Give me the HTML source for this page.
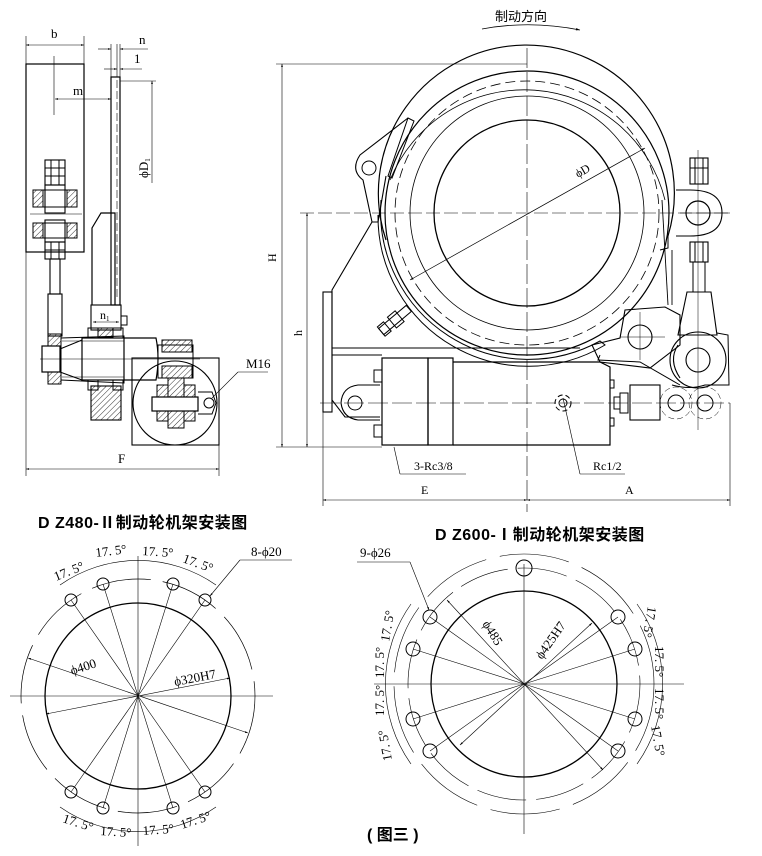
<!DOCTYPE html>
<html><head><meta charset="utf-8"><style>
html,body{margin:0;padding:0;background:#fff}
svg{display:block}
text{font-family:"Liberation Serif","Noto Serif CJK SC",serif;fill:#000}
.cj{font-family:"Liberation Sans","Noto Sans CJK SC",sans-serif}
</style></head><body>
<svg width="762" height="856" viewBox="0 0 762 856" xmlns="http://www.w3.org/2000/svg" fill="none" stroke="#000" stroke-width="1">
<defs>
<marker id="ar" viewBox="0 0 10 10" refX="10" refY="5" markerWidth="7" markerHeight="5" orient="auto-start-reverse"><path d="M0,2 L10,5 L0,8 z" fill="#000" stroke="none"/></marker>
<pattern id="h" width="4" height="4" patternUnits="userSpaceOnUse" patternTransform="rotate(45)"><line x1="0" y1="0" x2="0" y2="4" stroke="#000" stroke-width="0.8"/></pattern>
</defs>

<!-- ============ LEFT SIDE VIEW ============ -->
<g stroke-width="1">
<line x1="26" y1="36" x2="26" y2="64" stroke-width="0.6"/><line x1="84" y1="36" x2="84" y2="64" stroke-width="0.6"/>
<line x1="26" y1="45" x2="84" y2="45" stroke-width="0.6" marker-start="url(#ar)" marker-end="url(#ar)"/>
<text x="51" y="38" font-size="13" stroke="none">b</text>
<rect x="26" y="64" width="58" height="188" stroke-width="1.2"/>
<line x1="54" y1="56" x2="54" y2="115" stroke-width="0.6"/>
<line x1="55" y1="99" x2="111" y2="99" stroke-width="0.6" marker-start="url(#ar)" marker-end="url(#ar)"/>
<text x="73" y="95" font-size="13" stroke="none">m</text>
<line x1="111" y1="44" x2="111" y2="77" stroke-width="0.6"/><line x1="117" y1="44" x2="117" y2="77" stroke-width="0.6"/><line x1="120" y1="44" x2="120" y2="77" stroke-width="0.6"/>
<line x1="98" y1="49" x2="111" y2="49" stroke-width="0.6" marker-end="url(#ar)"/><line x1="148" y1="49" x2="120" y2="49" stroke-width="0.6" marker-end="url(#ar)"/>
<text x="139" y="44" font-size="13" stroke="none">n</text>
<line x1="104" y1="69" x2="117" y2="69" stroke-width="0.6" marker-end="url(#ar)"/><line x1="142" y1="69" x2="120" y2="69" stroke-width="0.6" marker-end="url(#ar)"/>
<text x="134" y="63" font-size="13" stroke="none">1</text>
<rect x="111" y="77" width="9" height="228" stroke-width="1.2"/>
<line x1="117" y1="80" x2="117" y2="300" stroke-width="0.6" stroke-dasharray="8,3"/>
<line x1="120" y1="81" x2="156" y2="81" stroke-width="0.6"/>
<line x1="152" y1="81" x2="152" y2="183" stroke-width="0.6" marker-start="url(#ar)"/>
<text x="0" y="0" font-size="13" stroke="none" transform="translate(148,178) rotate(-90)">ϕD<tspan font-size="7" dy="2">1</tspan></text>
<path d="M92,305 L92,228 L101,213 L115,213 L115,305" stroke-width="1.2"/>
<rect x="91" y="305" width="30" height="25" stroke-width="1.1"/>
<line x1="93" y1="322" x2="119" y2="322" stroke-width="0.6" marker-start="url(#ar)" marker-end="url(#ar)"/>
<text x="100" y="319" font-size="12" stroke="none">n<tspan font-size="7" dy="2">1</tspan></text>
<rect x="121" y="316" width="6" height="9"/>
<rect x="33" y="190" width="44" height="17" stroke-width="1"/><rect x="33" y="223" width="44" height="15"/>
<rect x="33" y="190" width="10" height="17" fill="url(#h)"/><rect x="67" y="190" width="10" height="17" fill="url(#h)"/>
<rect x="33" y="223" width="10" height="15" fill="url(#h)"/><rect x="67" y="223" width="10" height="15" fill="url(#h)"/>
<rect x="45" y="160" width="20" height="25" stroke-width="1.1"/><line x1="45" y1="168" x2="65" y2="168"/><line x1="45" y1="176" x2="65" y2="176"/><line x1="51" y1="160" x2="51" y2="185"/><line x1="59" y1="160" x2="59" y2="185"/>
<rect x="45" y="185" width="20" height="28" stroke-width="1.1"/>
<rect x="45" y="220" width="20" height="22" stroke-width="1.1"/>
<rect x="45" y="242" width="20" height="17" stroke-width="1.1"/><line x1="51" y1="242" x2="51" y2="259"/><line x1="59" y1="242" x2="59" y2="259"/><line x1="45" y1="250" x2="65" y2="250"/>
<line x1="30" y1="214" x2="82" y2="214" stroke-width="0.6"/>
<rect x="50" y="259" width="10" height="35" stroke-width="1.1"/><rect x="48" y="294" width="14" height="42" stroke-width="1.1"/>
<rect x="48" y="334" width="13" height="50" fill="url(#h)"/>
<rect x="42" y="346" width="18" height="26" stroke-width="1.2" fill="#fff"/>
<path d="M61,338 L124,336 L124,383 L61,380" stroke-width="1"/>
<line x1="62" y1="341" x2="124" y2="341" stroke-width="0.6"/><line x1="62" y1="377" x2="124" y2="377" stroke-width="0.6"/>
<path d="M60,349 L82,340 L82,380 L60,372"/>
<rect x="82" y="338" width="42" height="42" stroke-width="1.2"/>
<rect x="88" y="328" width="10" height="10"/><rect x="113" y="328" width="10" height="10"/>
<rect x="88" y="380" width="10" height="10"/><rect x="113" y="380" width="10" height="10"/>
<rect x="98" y="328" width="15" height="9" fill="url(#h)"/>
<path d="M124,338 L156,338 Q160,358 156,380 L124,380" stroke-width="1.2"/>
<rect x="91" y="386" width="30" height="34" fill="url(#h)" stroke-width="1.1"/>
<rect x="162" y="340" width="30" height="12" fill="url(#h)"/><rect x="162" y="366" width="30" height="12" fill="url(#h)"/>
<rect x="158" y="345" width="35" height="33" stroke-width="1"/>
<line x1="40" y1="359" x2="200" y2="359" stroke-width="0.6"/>
<rect x="132" y="358" width="87" height="87" stroke-width="1.1"/>
<circle cx="175" cy="403" r="42" stroke-width="1.1"/>
<rect x="168" y="378" width="16" height="50" fill="url(#h)"/><rect x="157" y="385" width="11" height="36" fill="url(#h)"/><rect x="184" y="385" width="11" height="36" fill="url(#h)"/>
<rect x="152" y="397" width="46" height="14" stroke-width="1.2" fill="#fff"/>
<path d="M198,392 L212,392 L216,403 L212,414 L198,414" />
<circle cx="209" cy="403" r="5"/>
<line x1="212" y1="398" x2="238" y2="372" stroke-width="0.6"/><line x1="238" y1="372" x2="268" y2="372" stroke-width="0.6"/>
<text x="246" y="368" font-size="13" stroke="none">M16</text>
<line x1="26" y1="252" x2="26" y2="476" stroke-width="0.6"/><line x1="219" y1="445" x2="219" y2="476" stroke-width="0.6"/>
<line x1="26" y1="469" x2="219" y2="469" stroke-width="0.6" marker-start="url(#ar)" marker-end="url(#ar)"/>
<text x="118" y="463" font-size="13" stroke="none">F</text>
</g>

<!-- ============ RIGHT MAIN VIEW ============ -->
<g>
<text x="495" y="21" font-size="13" class="cj" stroke="none">制动方向</text>
<path d="M482,29 Q530,20 580,30" stroke-width="0.8" marker-end="url(#ar)"/>
<line x1="276" y1="64" x2="527" y2="64" stroke-width="0.6"/>
<line x1="282" y1="64" x2="282" y2="447" stroke-width="0.6" marker-start="url(#ar)" marker-end="url(#ar)"/>
<text x="0" y="0" font-size="12" stroke="none" transform="translate(276,262) rotate(-90)">H</text>
<line x1="300" y1="213" x2="730" y2="213" stroke-width="0.6" stroke-dasharray="14,4"/>
<line x1="307" y1="213" x2="307" y2="447" stroke-width="0.6" marker-start="url(#ar)" marker-end="url(#ar)"/>
<text x="0" y="0" font-size="12" stroke="none" transform="translate(302,336) rotate(-90)">h</text>
<line x1="276" y1="447" x2="382" y2="447" stroke-width="0.6"/>
<line x1="527" y1="48" x2="527" y2="512" stroke-width="0.6" stroke-dasharray="20,4"/>
<circle cx="527" cy="213" r="93" stroke-width="1.3"/>
<circle cx="527" cy="213" r="117" stroke-width="0.8"/>
<circle cx="527" cy="213" r="132" stroke-width="0.8" stroke-dasharray="10,5"/>
<circle cx="527" cy="213" r="142" stroke-width="1.2"/>
<path d="M386,240 A148,148 0 1 1 668,236" stroke-width="1.2"/>
<path d="M390,180 A145,145 0 0 1 665,200" stroke-width="0.8"/>
<path d="M668,236 L668,248 L660,250" stroke-width="1"/>
<path d="M381,200 A148,148 0 0 0 600,341 L605,345 A150,150 0 0 1 378,215" stroke-width="1"/>
<line x1="410" y1="280" x2="645" y2="148" stroke-width="0.7" marker-start="url(#ar)" marker-end="url(#ar)"/>
<text x="0" y="0" font-size="12" stroke="none" transform="translate(578,178) rotate(-30)">ϕD</text>
<path d="M408,118 L414,121 L392,178 L388,176 Z"/>
<path d="M408,118 L360,155 Q350,170 363,180 L372,222 L378,222 L386,176" stroke-width="1.1"/>
<circle cx="369" cy="168" r="7"/>
<path d="M372,222 L332,290 L332,400 L345,417 L380,417" stroke-width="1.1"/>
<rect x="323" y="292" width="9" height="120" stroke-width="1.1"/>
<line x1="332" y1="348" x2="580" y2="348" stroke-width="1"/><line x1="332" y1="355" x2="382" y2="355" stroke-width="1"/>
<path d="M380,385 L358,385 Q342,387 341,403 Q343,418 358,420 L380,420" stroke-width="1.1"/>
<circle cx="355" cy="403" r="7"/>
<line x1="320" y1="403" x2="730" y2="403" stroke-width="0.6" stroke-dasharray="20,4"/>
<g transform="translate(395,320) rotate(-40)"><rect x="-18" y="-4" width="36" height="8"/><rect x="-4" y="-7" width="10" height="14"/><rect x="-18" y="-6" width="8" height="12"/></g>
<rect x="382" y="358" width="46" height="87" stroke-width="1.2"/>
<rect x="428" y="358" width="25" height="87" stroke-width="1.2"/>
<path d="M453,362 L600,362 L610,367 L610,445 L453,445" stroke-width="1.2"/>
<rect x="374" y="370" width="8" height="12"/><rect x="374" y="425" width="8" height="12"/>
<rect x="610" y="380" width="4" height="8"/><rect x="610" y="418" width="4" height="8"/>
<rect x="614" y="397" width="6" height="12"/><rect x="620" y="393" width="8" height="20"/>
<rect x="630" y="385" width="30" height="35" stroke-width="1.1"/>
<circle cx="563" cy="403" r="8" stroke-dasharray="5,3"/>
<circle cx="563" cy="403" r="4"/>
<path d="M600,355 L598,360 L640,362 L680,385" stroke-width="1"/>
<path d="M592,345 L620,338 L625,310 L665,307 L680,315 L680,345 L650,368 L600,362 Z" stroke-width="1.1"/>
<circle cx="640" cy="337" r="12" stroke-width="1.1"/>
<line x1="620" y1="337" x2="665" y2="337" stroke-width="0.5"/><line x1="640" y1="312" x2="640" y2="360" stroke-width="0.5"/>
<line x1="662" y1="200" x2="668" y2="305" stroke-width="0.9"/><line x1="672" y1="250" x2="672" y2="305" stroke-width="0.9"/>
<path d="M676,190 L690,190 Q722,190 722,213 Q722,236 690,236 L676,236" stroke-width="1.1"/>
<circle cx="698" cy="213" r="12" stroke-width="1.2"/>
<line x1="680" y1="213" x2="730" y2="213" stroke-width="0.5"/><line x1="698" y1="150" x2="698" y2="430" stroke-width="0.5"/>
<rect x="690" y="158" width="18" height="26" stroke-width="1.1"/><line x1="695" y1="158" x2="695" y2="184"/><line x1="703" y1="158" x2="703" y2="184"/><line x1="690" y1="168" x2="708" y2="168"/>
<rect x="690" y="242" width="18" height="20" stroke-width="1.1"/><line x1="695" y1="242" x2="695" y2="262"/><line x1="703" y1="242" x2="703" y2="262"/>
<rect x="693" y="262" width="12" height="30"/>
<path d="M687,292 L711,292 L717,335 L678,335 Z" stroke-width="1.1"/>
<path d="M717,333 L728,335 L729,385 L705,385 Q690,390 672,385" stroke-width="1"/>
<circle cx="698" cy="360" r="28" stroke-width="1.1"/>
<circle cx="698" cy="360" r="12" stroke-width="1.1"/>
<path d="M678,345 Q668,360 680,378" stroke-width="1.1"/>
<circle cx="676" cy="403" r="8"/><circle cx="705" cy="403" r="8"/>
<circle cx="676" cy="403" r="16" stroke-width="0.5" stroke-dasharray="6,3"/><circle cx="705" cy="403" r="16" stroke-width="0.5" stroke-dasharray="6,3"/>
<line x1="394" y1="447" x2="400" y2="474" stroke-width="0.6"/><line x1="400" y1="474" x2="466" y2="474" stroke-width="0.6"/>
<text x="414" y="470" font-size="12" stroke="none">3-Rc3/8</text>
<line x1="563" y1="398" x2="580" y2="474" stroke-width="0.6"/><line x1="580" y1="474" x2="625" y2="474" stroke-width="0.6"/>
<text x="593" y="470" font-size="12" stroke="none">Rc1/2</text>
<line x1="323" y1="412" x2="323" y2="506" stroke-width="0.6"/><line x1="730" y1="403" x2="730" y2="506" stroke-width="0.6"/>
<line x1="323" y1="500" x2="527" y2="500" stroke-width="0.6" marker-start="url(#ar)" marker-end="url(#ar)"/>
<line x1="527" y1="500" x2="730" y2="500" stroke-width="0.6" marker-start="url(#ar)" marker-end="url(#ar)"/>
<text x="421" y="494" font-size="12" stroke="none">E</text>
<text x="625" y="494" font-size="12" stroke="none">A</text>
</g>

<text x="38" y="528" font-size="16" font-weight="bold" class="cj" stroke="none" letter-spacing="0.5">D Z480-Ⅱ制动轮机架安装图</text>
<text x="435" y="540" font-size="16" font-weight="bold" class="cj" stroke="none" letter-spacing="0.5">D Z600-Ⅰ制动轮机架安装图</text>

<!-- ============ LEFT FLANGE ============ -->
<g transform="translate(138,696)">
<line x1="-128" y1="0" x2="135" y2="0" stroke-width="0.6"/>
<line x1="0" y1="-140" x2="0" y2="150" stroke-width="0.6"/>
<circle r="93" stroke-width="1.3"/>
<circle r="117" stroke-width="0.7" stroke-dasharray="60,12"/>
<g stroke-width="0.6">
<line x1="0" y1="0" x2="-67" y2="-96"/><line x1="0" y1="0" x2="-35" y2="-112"/><line x1="0" y1="0" x2="35" y2="-112"/><line x1="0" y1="0" x2="67" y2="-96"/>
<line x1="0" y1="0" x2="-67" y2="96"/><line x1="0" y1="0" x2="-35" y2="112"/><line x1="0" y1="0" x2="35" y2="112"/><line x1="0" y1="0" x2="67" y2="96"/>
</g>
<g stroke-width="1"><circle cx="-67" cy="-96" r="6"/><circle cx="-35" cy="-112" r="6"/><circle cx="35" cy="-112" r="6"/><circle cx="67" cy="-96" r="6"/>
<circle cx="-67" cy="96" r="6"/><circle cx="-35" cy="112" r="6"/><circle cx="35" cy="112" r="6"/><circle cx="67" cy="96" r="6"/></g>
<path d="M-78,-111 A136,136 0 0 1 78,-111" stroke-width="0.6"/>
<path d="M-78,111 A136,136 0 0 0 78,111" stroke-width="0.6"/>
<line x1="-110" y1="-38" x2="110" y2="37" stroke-width="0.6" marker-start="url(#ar)" marker-end="url(#ar)"/>
<line x1="-92" y1="18" x2="92" y2="-18" stroke-width="0.6" marker-start="url(#ar)" marker-end="url(#ar)"/>
</g>
<g font-size="13" stroke="none">
<text transform="translate(56,581) rotate(-22)">17. 5°</text>
<text transform="translate(96,557) rotate(-7)">17. 5°</text>
<text transform="translate(142,555) rotate(4)">17. 5°</text>
<text transform="translate(182,562) rotate(20)">17. 5°</text>
<text transform="translate(62,822) rotate(18)">17. 5°</text>
<text transform="translate(100,835) rotate(4)">17. 5°</text>
<text transform="translate(143,835) rotate(-4)">17. 5°</text>
<text transform="translate(182,829) rotate(-18)">17. 5°</text>
<text transform="translate(72,675) rotate(-18)">ϕ400</text>
<text transform="translate(175,686) rotate(-11)">ϕ320H7</text>
<text x="251" y="556">8-ϕ20</text>
</g>
<line x1="240" y1="560" x2="292" y2="560" stroke-width="0.6"/>
<line x1="240" y1="560" x2="210" y2="596" stroke-width="0.6" marker-end="url(#ar)"/>

<!-- ============ RIGHT FLANGE ============ -->
<g transform="translate(524,684)">
<line x1="-150" y1="0" x2="160" y2="0" stroke-width="0.6"/>
<line x1="0" y1="-120" x2="0" y2="150" stroke-width="0.6"/>
<circle r="93" stroke-width="1.3"/>
<circle r="116" stroke-width="0.6" stroke-dasharray="50,10"/>
<circle r="130" stroke-width="0.6" stroke-dasharray="70,14"/>
<g stroke-width="0.6">
<line x1="0" y1="0" x2="-94" y2="-67"/><line x1="0" y1="0" x2="-111" y2="-35"/><line x1="0" y1="0" x2="-111" y2="35"/><line x1="0" y1="0" x2="-94" y2="67"/>
<line x1="0" y1="0" x2="94" y2="-67"/><line x1="0" y1="0" x2="111" y2="-35"/><line x1="0" y1="0" x2="111" y2="35"/><line x1="0" y1="0" x2="94" y2="67"/>
</g>
<g stroke-width="1"><circle cx="0" cy="-116" r="8"/>
<circle cx="-94" cy="-67" r="7"/><circle cx="-111" cy="-35" r="7"/><circle cx="-111" cy="35" r="7"/><circle cx="-94" cy="67" r="7"/>
<circle cx="94" cy="-67" r="7"/><circle cx="111" cy="-35" r="7"/><circle cx="111" cy="35" r="7"/><circle cx="94" cy="67" r="7"/></g>
<path d="M-113,-80 A138,138 0 0 0 -113,80" stroke-width="0.6"/>
<path d="M113,-80 A138,138 0 0 1 113,80" stroke-width="0.6"/>
<line x1="-77" y1="-84" x2="79" y2="86" stroke-width="0.6" marker-start="url(#ar)" marker-end="url(#ar)"/>
<line x1="-64" y1="61" x2="68" y2="-61" stroke-width="0.6" marker-start="url(#ar)" marker-end="url(#ar)"/>
</g>
<g font-size="13" stroke="none">
<text transform="translate(389,642) rotate(-80)">17. 5°</text>
<text transform="translate(384,678) rotate(-90)">17. 5°</text>
<text transform="translate(384,716) rotate(-90)">17. 5°</text>
<text transform="translate(392,760) rotate(-100)">17. 5°</text>
<text transform="translate(648,606) rotate(100)">17. 5°</text>
<text transform="translate(655,646) rotate(90)">17. 5°</text>
<text transform="translate(655,688) rotate(90)">17. 5°</text>
<text transform="translate(651,726) rotate(80)">17. 5°</text>
<text transform="translate(482,624) rotate(58)">ϕ485</text>
<text transform="translate(542,660) rotate(-55)">ϕ425H7</text>
<text x="360" y="557">9-ϕ26</text>
</g>
<line x1="357" y1="562" x2="410" y2="562" stroke-width="0.6"/>
<line x1="410" y1="562" x2="429" y2="610" stroke-width="0.6" marker-end="url(#ar)"/>

<text x="367" y="840" font-size="16" font-weight="bold" class="cj" stroke="none">( 图三 )</text>
</svg>
</body></html>
